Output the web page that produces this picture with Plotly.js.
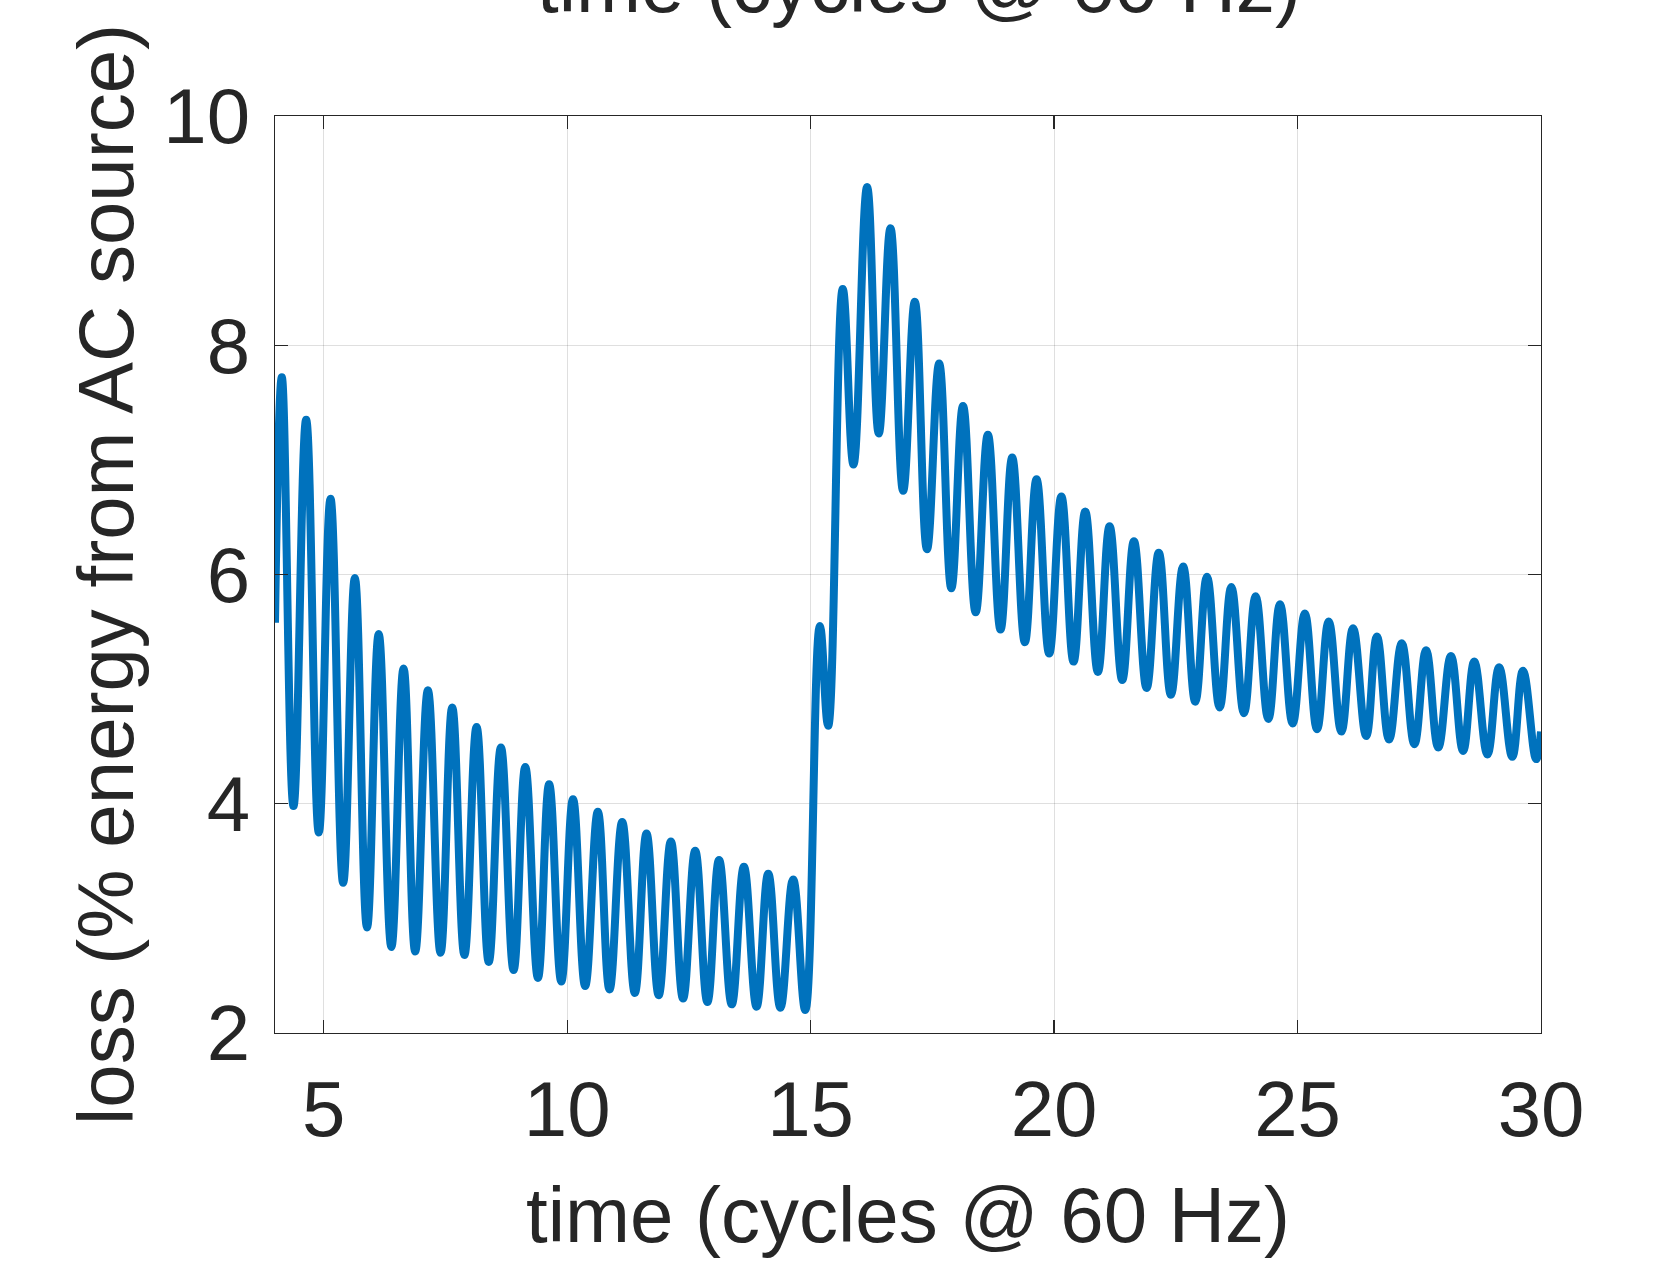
<!DOCTYPE html>
<html>
<head>
<meta charset="utf-8">
<script src="https://cdn.plot.ly/plotly-3.0.1.min.js"></script>
<style>
  html, body { margin: 0; padding: 0; background: #ffffff; }
  #chart { width: 1661px; height: 1263px; }
</style>
</head>
<body>
<div id="chart"></div>
<script>
// time in cycles @ 60 Hz (read at peaks / troughs of the ripple)
const timeCycles = [
  4.00, 4.14, 4.38, 4.64, 4.90, 5.14, 5.40, 5.64, 5.89, 6.13,
  6.39, 6.64, 6.88, 7.14, 7.40, 7.64, 7.89, 8.14, 8.39, 8.64,
  8.90, 9.14, 9.40, 9.63, 9.88, 10.12, 10.37, 10.63, 10.87, 11.13,
  11.39, 11.63, 11.88, 12.13, 12.38, 12.63, 12.88, 13.12, 13.38, 13.63,
  13.89, 14.13, 14.38, 14.64, 14.89, 15.19, 15.36, 15.66, 15.88, 16.16,
  16.40, 16.64, 16.90, 17.14, 17.39, 17.64, 17.89, 18.13, 18.39, 18.64,
  18.90, 19.14, 19.40, 19.64, 19.90, 20.15, 20.40, 20.64, 20.90, 21.14,
  21.40, 21.64, 21.90, 22.15, 22.40, 22.65, 22.90, 23.14, 23.40, 23.64,
  23.90, 24.14, 24.40, 24.64, 24.90, 25.15, 25.40, 25.64, 25.90, 26.14,
  26.41, 26.63, 26.88, 27.14, 27.40, 27.64, 27.89, 28.15, 28.40, 28.63,
  28.90, 29.14, 29.41, 29.63, 29.90, 30.00
];
// loss (% energy from AC source)
const lossPct = [
  5.58, 7.72, 3.98, 7.35, 3.75, 6.66, 3.31, 5.97, 2.92, 5.48,
  2.75, 5.18, 2.71, 4.99, 2.70, 4.84, 2.68, 4.67, 2.62, 4.49,
  2.55, 4.32, 2.48, 4.17, 2.45, 4.04, 2.41, 3.93, 2.38, 3.84,
  2.35, 3.74, 2.33, 3.67, 2.30, 3.59, 2.27, 3.51, 2.25, 3.45,
  2.23, 3.39, 2.22, 3.34, 2.20, 5.55, 4.68, 8.49, 6.96, 9.38,
  7.23, 9.02, 6.73, 8.38, 6.22, 7.84, 5.88, 7.47, 5.67, 7.22,
  5.52, 7.02, 5.41, 6.83, 5.31, 6.68, 5.24, 6.55, 5.15, 6.42,
  5.08, 6.29, 5.01, 6.19, 4.95, 6.07, 4.89, 5.98, 4.84, 5.89,
  4.79, 5.81, 4.74, 5.74, 4.70, 5.66, 4.65, 5.59, 4.63, 5.53,
  4.59, 5.46, 4.56, 5.40, 4.52, 5.34, 4.49, 5.29, 4.46, 5.24,
  4.43, 5.19, 4.41, 5.16, 4.39, 4.63
];
const xTickVals = [5, 10, 15, 20, 25, 30];
const yTickVals = [2, 4, 6, 8, 10];
const xTitle = 'time (cycles @ 60 Hz)';
const yTitle = 'loss (% energy from AC source)';

const FONT = '"Liberation Sans", Arial, Helvetica, sans-serif';
const INK = '#262626';
const GRID = 'rgba(38,38,38,0.15)';

const trace = {
  x: timeCycles,
  y: lossPct,
  type: 'scatter',
  mode: 'lines',
  line: { color: '#0072BD', width: 8, shape: 'spline', smoothing: 1.2 },
  hoverinfo: 'x+y'
};

const axisCommon = {
  showline: true, linecolor: INK, linewidth: 1.3, mirror: 'ticks',
  ticks: 'inside', ticklen: 13, tickwidth: 1.3, tickcolor: INK,
  showgrid: true, gridcolor: GRID, gridwidth: 1,
  zeroline: false,
  tickfont: { family: FONT, size: 78, color: INK }
};

const layout = {
  width: 1661, height: 1263, autosize: false,
  paper_bgcolor: '#ffffff', plot_bgcolor: '#ffffff',
  margin: { l: 275, r: 120, t: 116, b: 230, pad: 0 },
  showlegend: false,
  font: { family: FONT, color: INK },
  xaxis: Object.assign({}, axisCommon, {
    range: [4, 30], tickmode: 'array', tickvals: xTickVals,
    ticktext: xTickVals.map(String),
    ticklabelstandoff: 8,
    title: { text: xTitle, font: { family: FONT, size: 78, color: INK }, standoff: 35 }
  }),
  yaxis: Object.assign({}, axisCommon, {
    range: [2, 10], tickmode: 'array', tickvals: yTickVals,
    ticktext: yTickVals.map(String),
    ticklabelstandoff: 8,
    title: { text: yTitle, font: { family: FONT, size: 78, color: INK }, standoff: 4 }
  }),
  annotations: [{
    text: xTitle, xref: 'paper', yref: 'paper', x: 0.509, y: 1.143,
    xanchor: 'center', yanchor: 'middle', showarrow: false,
    font: { family: FONT, size: 78, color: INK }
  }]
};

Plotly.newPlot('chart', [trace], layout, { displayModeBar: false, staticPlot: true });
</script>
</body>
</html>
